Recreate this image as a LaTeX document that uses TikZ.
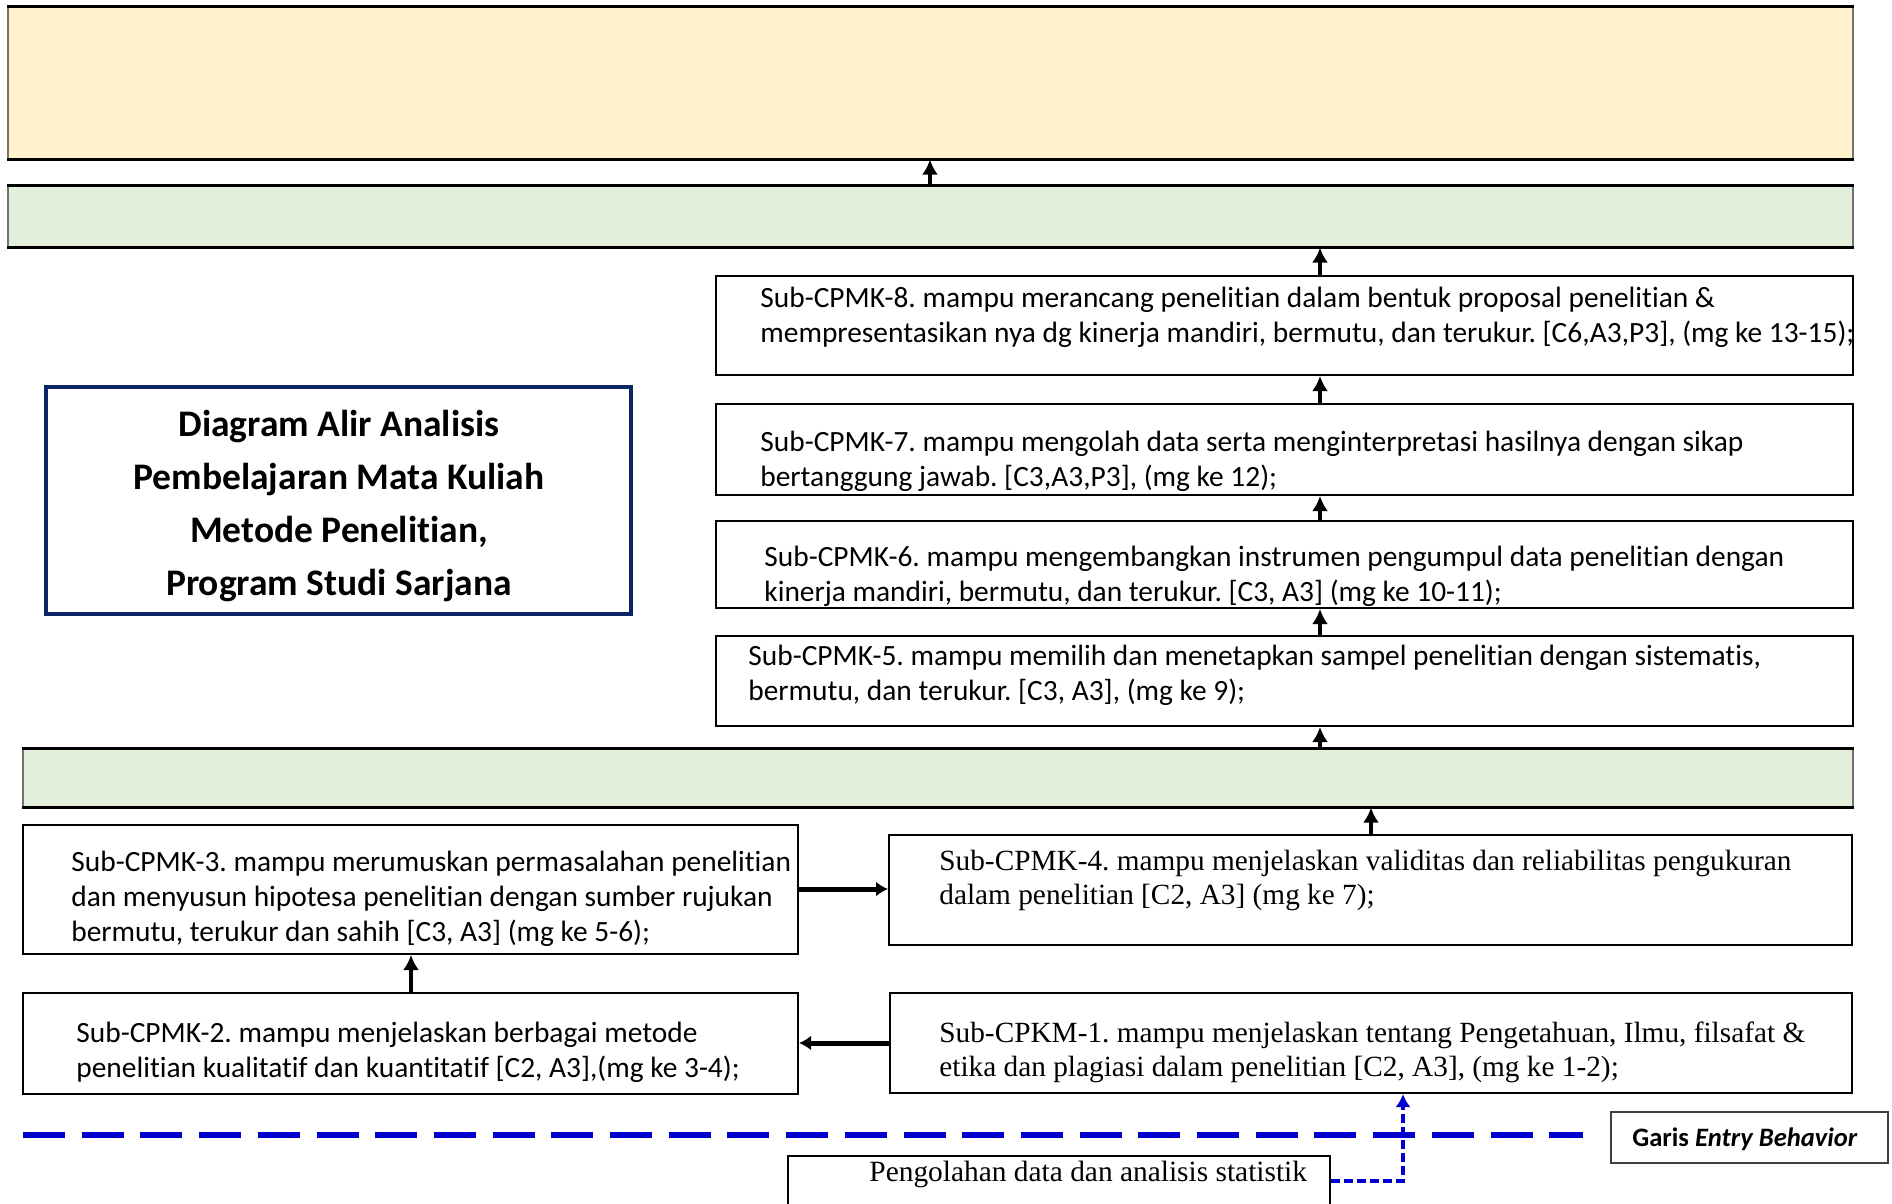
\documentclass[tikz,border=0pt]{standalone}
\usepackage{fontspec}
\setmainfont{Carlito}[Ligatures=NoCommon]
\newfontfamily\serifface{Liberation Serif}
\usetikzlibrary{arrows.meta,fit}
\frenchspacing

\definecolor{goalfill}{HTML}{FFF2CC}
\definecolor{bandfill}{HTML}{E2EFDA}
\definecolor{titlenavy}{HTML}{0B2566}
\definecolor{entryblue}{HTML}{0000CC}

\begin{document}
\begin{tikzpicture}[x=0.5pt,y=-0.5pt,
  frame/.style={draw=black,line width=1pt,inner sep=0pt},
  band/.style={draw=black!55,line width=0.6pt,inner sep=0pt},
  bandedge/.style={line width=1.4pt},
  subtext/.style={anchor=west,inner sep=0pt,align=left,font=\frenchspacing\fontsize{14.7}{17.5}\selectfont},
  sertext/.style={anchor=west,inner sep=0pt,align=left,font=\serifface\frenchspacing\fontsize{14.65}{17}\selectfont},
  uparrow/.style={line width=2pt,-{Latex[length=7.5pt,width=8pt]}},
  sidearrow/.style={line width=2.5pt,-{Latex[length=6pt,width=7.5pt]}},
  entryline/.style={entryblue,line width=2.6pt,dash pattern=on 21pt off 8.35pt},
  entrylink/.style={entryblue,line width=2pt,dash pattern=on 4.5pt off 2pt,-{Latex[length=6.5pt,width=7.5pt]}},
]
\useasboundingbox (0,0) rectangle (1892,1204);

% coloured bands
\node[band,fill=goalfill,fit={(8,7) (1853,159)}] (goal) {};
\draw[bandedge] (goal.north west) -- (goal.north east) (goal.south west) -- (goal.south east);
\node[band,fill=bandfill,fit={(8,186) (1853,247)}] (bandtop) {};
\draw[bandedge] (bandtop.north west) -- (bandtop.north east) (bandtop.south west) -- (bandtop.south east);
\node[band,fill=bandfill,fit={(23,749) (1853,807)}] (bandlow) {};
\draw[bandedge] (bandlow.north west) -- (bandlow.north east) (bandlow.south west) -- (bandlow.south east);

% sub-CPMK boxes
\node[frame,fit={(716,276) (1853,375)}] (s8) {};
\node[frame,fit={(716,404) (1853,495)}] (s7) {};
\node[frame,fit={(716,521) (1853,608)}] (s6) {};
\node[frame,fit={(716,636) (1853,726)}] (s5) {};
\node[frame,fit={(23,825) (798,954)}] (s3) {};
\node[frame,fit={(889,835) (1852,945)}] (s4) {};
\node[frame,fit={(23,993) (798,1094)}] (s2) {};
\node[frame,fit={(890,993) (1852,1093)}] (s1) {};

% title, legend and prerequisite boxes
\node[draw=titlenavy,line width=2.2pt,inner sep=0pt,fit={(46,387) (631,614)}] (title) {};
\node[draw=black!75,line width=0.8pt,inner sep=0pt,fit={(1611,1112) (1888,1163)}] (garis) {};
\node[draw=black,line width=0.8pt,inner sep=0pt,fit={(788,1156) (1330,1215)}] (olah) {};

% texts
\node[subtext] (s8t) at (760,317) {Sub-CPMK-8. mampu merancang penelitian dalam bentuk proposal penelitian \&\\mempresentasikan nya dg kinerja mandiri, bermutu, dan terukur. [C6,A3,P3], (mg ke 13-15);};
\node[subtext] (s7t) at (760,461) {Sub-CPMK-7. mampu mengolah data serta menginterpretasi hasilnya dengan sikap\\bertanggung jawab. [C3,A3,P3], (mg ke 12);};
\node[subtext] (s6t) at (764,576) {Sub-CPMK-6. mampu mengembangkan instrumen pengumpul data penelitian dengan\\kinerja mandiri, bermutu, dan terukur. [C3, A3] (mg ke 10-11);};
\node[subtext] (s5t) at (748,675) {Sub-CPMK-5. mampu memilih dan menetapkan sampel penelitian dengan sistematis,\\bermutu, dan terukur. [C3, A3], (mg ke 9);};
\node[subtext] (s3t) at (71,899) {Sub-CPMK-3. mampu merumuskan permasalahan penelitian\\dan menyusun hipotesa penelitian dengan sumber rujukan\\bermutu, terukur dan sahih [C3, A3] (mg ke 5-6);};
\node[sertext] (s4t) at (939,880) {Sub-CPMK-4. mampu menjelaskan validitas dan reliabilitas pengukuran\\dalam penelitian [C2, A3] (mg ke 7);};
\node[subtext] (s2t) at (76,1052) {Sub-CPMK-2. mampu menjelaskan berbagai metode\\penelitian kualitatif dan kuantitatif [C2, A3],(mg ke 3-4);};
\node[sertext] (s1t) at (939,1052) {Sub-CPKM-1. mampu menjelaskan tentang Pengetahuan, Ilmu, filsafat \&\\etika dan plagiasi dalam penelitian [C2, A3], (mg ke 1-2);};
\node[align=center,inner sep=0pt,font=\bfseries\fontsize{18.75}{26.4}\selectfont] (titlet) at (339,506) {Diagram Alir Analisis\\Pembelajaran Mata Kuliah\\Metode Penelitian,\\Program Studi Sarjana};
\node[inner sep=0pt,font=\bfseries\fontsize{13.3}{15}\selectfont] (garist) at (1745,1139) {Garis \textit{Entry Behavior}};
\node[anchor=west,inner sep=0pt,font=\serifface\fontsize{14.7}{17}\selectfont] (olaht) at (869,1174) {Pengolahan data dan analisis statistik};

% connectors
\coordinate (cA) at (930,0);
\coordinate (cB) at (1320,0);
\coordinate (cC) at (1371,0);
\coordinate (cD) at (411,0);
\coordinate (cE) at (0,889);
\coordinate (cF) at (0,1043);
\coordinate (cG) at (1403,1181);
\draw[uparrow] (bandtop.north -| cA) -- (goal.south -| cA);
\draw[uparrow] (s8.north -| cB) -- (bandtop.south -| cB);
\draw[uparrow] (s7.north -| cB) -- (s8.south -| cB);
\draw[uparrow] (s6.north -| cB) -- (s7.south -| cB);
\draw[uparrow] (s5.north -| cB) -- (s6.south -| cB);
\draw[uparrow] (bandlow.north -| cB) -- (s5.south -| cB);
\draw[uparrow] (s4.north -| cC) -- (bandlow.south -| cC);
\draw[uparrow] (s2.north -| cD) -- (s3.south -| cD);
\draw[sidearrow] (s3.east |- cE) -- (s4.west |- cE);
\draw[sidearrow] (s1.west |- cF) -- (s2.east |- cF);

% entry behaviour line
\coordinate (entryL) at (23,1135);
\coordinate (entryR) at (1583,1135);
\draw[entryline] (entryL) -- (entryR);
\draw[entrylink] (olah.east |- cG) -- (cG) -- (s1.south -| cG);
\end{tikzpicture}
\end{document}
